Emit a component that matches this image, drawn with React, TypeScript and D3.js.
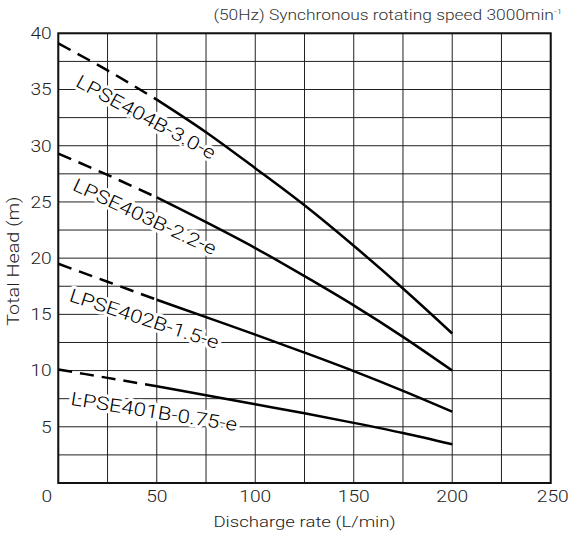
import React, { useEffect, useRef } from 'react';
import * as d3 from 'd3';

// discharge rate (L/min) and total head (m) per model
const flow = [0, 25, 50, 75, 100, 125, 150, 175, 200];
const head404 = [39.1, 36.7, 34.1, 31.2, 28.0, 24.7, 21.1, 17.3, 13.3];
const head403 = [29.3, 27.4, 25.4, 23.2, 20.9, 18.4, 15.8, 13.0, 10.0];
const head402 = [19.5, 17.9, 16.3, 14.75, 13.2, 11.6, 9.95, 8.2, 6.35];
const head401 = [10.1, 9.35, 8.6, 7.8, 7.0, 6.2, 5.35, 4.45, 3.45];
const models = ['LPSE404B-3.0-e', 'LPSE403B-2.2-e', 'LPSE402B-1.5-e', 'LPSE401B-0.75-e'];
// label anchors (data units) and rotation
const labelX = [8.2, 6.7, 5.0, 6.0];
const labelY = [35.35, 26.1, 16.2, 6.95];
const labelAngle = [28.5, 25, 18, 9];
const dashedUntil = 50;

const xTicks = [0, 50, 100, 150, 200, 250];
const yTicks = [5, 10, 15, 20, 25, 30, 35, 40];

const W = 569;
const H = 535;
const SX = 1.2; // horizontal stretch of the glyphs
const FONT = 'Roboto, "Liberation Sans", Arial, sans-serif';
const WEIGHT = 300;

const App: React.FC = () => {
  const svgRef = useRef<SVGSVGElement>(null);

  useEffect(() => {
    if (!svgRef.current) return;
    const svg = d3.select(svgRef.current);
    svg.selectAll('*').remove();

    const x = d3.scaleLinear().domain([0, 250]).range([58.3, 550.7]);
    const y = d3.scaleLinear().domain([0, 40]).range([483, 33.3]);

    const g = svg.append('g');

    // grid
    d3.range(0, 250.1, 25).forEach((v) => {
      g.append('line')
        .attr('x1', x(v)).attr('x2', x(v))
        .attr('y1', y(0)).attr('y2', y(40))
        .attr('stroke', '#222').attr('stroke-width', 1);
    });
    d3.range(0, 40.1, 2.5).forEach((v) => {
      g.append('line')
        .attr('x1', x(0)).attr('x2', x(250))
        .attr('y1', y(v)).attr('y2', y(v))
        .attr('stroke', '#222').attr('stroke-width', 1);
    });
    g.append('rect')
      .attr('x', x(0)).attr('y', y(40))
      .attr('width', x(250) - x(0)).attr('height', y(0) - y(40))
      .attr('fill', 'none').attr('stroke', '#111').attr('stroke-width', 2);

    // curves
    const series = [head404, head403, head402, head401];
    const line = d3
      .line<[number, number]>()
      .x((d) => x(d[0]))
      .y((d) => y(d[1]))
      .curve(d3.curveMonotoneX);

    series.forEach((heads) => {
      const pts: [number, number][] = flow.map((f, i) => [f, heads[i]]);
      g.append('path')
        .datum(pts.filter((p) => p[0] <= dashedUntil))
        .attr('fill', 'none').attr('stroke', '#000').attr('stroke-width', 2.5)
        .attr('stroke-dasharray', '14,8')
        .attr('d', line);
      g.append('path')
        .datum(pts.filter((p) => p[0] >= dashedUntil))
        .attr('fill', 'none').attr('stroke', '#000').attr('stroke-width', 2.5)
        .attr('d', line);
    });

    // model labels: white halo underneath, then the text
    models.forEach((name, i) => {
      const lg = g.append('g')
        .attr('transform', `translate(${x(labelX[i])},${y(labelY[i])}) rotate(${labelAngle[i]}) scale(${SX},1)`);
      lg.append('text')
        .attr('font-family', FONT).attr('font-weight', WEIGHT).attr('font-size', 18.5)
        .attr('fill', '#fff').attr('stroke', '#fff').attr('stroke-width', 6)
        .attr('stroke-linejoin', 'round')
        .text(name);
      lg.append('text')
        .attr('font-family', FONT).attr('font-weight', WEIGHT).attr('font-size', 18.5).attr('fill', '#000')
        .text(name);
    });

    // y tick labels
    yTicks.forEach((v) => {
      g.append('g')
        .attr('transform', `translate(51.7,${y(v) + 5.8}) scale(${SX},1)`)
        .append('text')
        .attr('text-anchor', 'end').attr('font-family', FONT).attr('font-weight', WEIGHT)
        .attr('font-size', 16).attr('fill', '#222')
        .text(v);
    });

    // x tick labels
    xTicks.forEach((v) => {
      const px = v === 0 ? 46.7 : x(v) + (v === 250 ? 2 : 0);
      g.append('g')
        .attr('transform', `translate(${px},${y(0) + 19}) scale(${SX},1)`)
        .append('text')
        .attr('text-anchor', 'middle').attr('font-family', FONT).attr('font-weight', WEIGHT)
        .attr('font-size', 16).attr('fill', '#222')
        .text(v);
    });

    // axis titles
    g.append('g')
      .attr('transform', `translate(${(x(0) + x(250)) / 2},527) scale(${SX},1)`)
      .append('text')
      .attr('text-anchor', 'middle').attr('font-family', FONT).attr('font-weight', WEIGHT)
      .attr('font-size', 15.5).attr('fill', '#222')
      .text('Discharge rate (L/min)');

    g.append('g')
      .attr('transform', `translate(19.3,${(y(0) + y(40)) / 2 + 3}) rotate(-90) scale(${SX},1)`)
      .append('text')
      .attr('text-anchor', 'middle').attr('font-family', FONT).attr('font-weight', WEIGHT)
      .attr('font-size', 16.5).attr('fill', '#222')
      .text('Total Head (m)');

    // top note
    const note = g.append('g')
      .attr('transform', `translate(562,20) scale(${SX},1)`)
      .append('text')
      .attr('text-anchor', 'end').attr('font-family', FONT).attr('font-weight', WEIGHT)
      .attr('font-size', 14.5).attr('fill', '#333');
    note.append('tspan').text('(50Hz) Synchronous rotating speed 3000min');
    note.append('tspan').attr('font-size', 8).attr('dy', -6).text('-1');
  }, []);

  return (
    <svg
      ref={svgRef}
      width={W}
      height={H}
      style={{ position: 'absolute', left: 0, top: 0, background: '#fff' }}
    ></svg>
  );
};

export default App;
